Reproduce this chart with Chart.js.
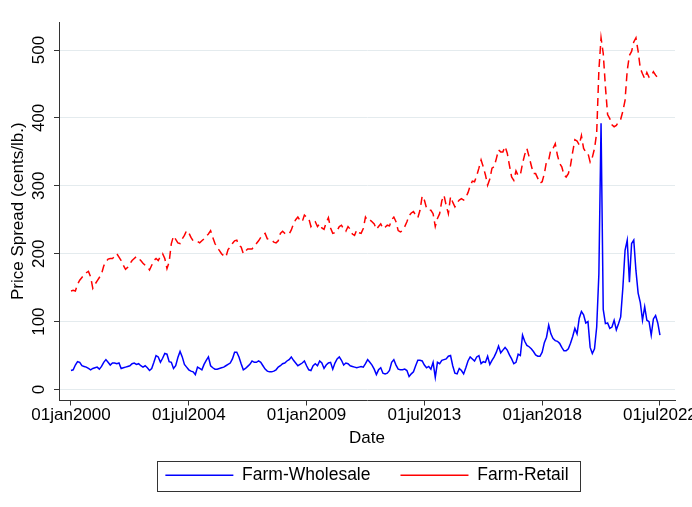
<!DOCTYPE html>
<html>
<head>
<meta charset="utf-8">
<script src="https://cdn.jsdelivr.net/npm/chart.js@4"></script>
<style>
  html, body { margin: 0; padding: 0; background: #fff; }
  canvas { display: block; }
</style>
</head>
<body>
<canvas id="spread" width="692" height="507"></canvas>
<script>
// Monthly price spreads, cents/lb., Jan 2000 .. Jul 2022 (one row per year)
const wholesale = [
  28, 29, 36, 41, 40, 35, 34, 33, 31, 29, 31, 32,       // 2000
  33, 30, 34, 40, 44, 40, 36, 39, 39, 38, 39, 31,       // 2001
  32, 33, 34, 35, 38, 39, 37, 38, 35, 33, 35, 32,       // 2002
  28, 31, 40, 50, 48, 40, 46, 53, 52, 41, 40, 31,       // 2003
  35, 47, 56, 48, 37, 33, 29, 27, 26, 22, 33, 31,       // 2004
  29, 37, 43, 48, 35, 32, 30, 30, 31, 32, 33, 35,       // 2005
  37, 39, 45, 55, 55, 48, 38, 29, 31, 34, 37, 42,       // 2006
  40, 40, 42, 40, 35, 30, 27, 26, 26, 27, 29, 33,       // 2007
  35, 38, 39, 42, 44, 48, 43, 39, 35, 37, 39, 42,       // 2008
  35, 29, 28, 35, 38, 35, 42, 39, 31, 36, 39, 40,       // 2009
  30, 39, 45, 48, 43, 36, 39, 38, 35, 34, 33, 32,       // 2010
  33, 34, 33, 38, 44, 40, 36, 30, 22, 29, 32, 24,       // 2011
  23, 24, 28, 40, 44, 36, 30, 29, 29, 30, 28, 19,       // 2012
  23, 26, 35, 43, 43, 42, 36, 32, 34, 30, 40, 18,       // 2013
  40, 38, 43, 44, 45, 49, 50, 35, 24, 23, 31, 28,       // 2014
  23, 32, 42, 48, 45, 42, 48, 50, 38, 41, 40, 49,       // 2015
  37, 43, 48, 55, 64, 54, 58, 62, 58, 51, 45, 38,       // 2016
  40, 52, 50, 80, 71, 65, 63, 60, 56, 51, 49, 49,       // 2017
  55, 69, 77, 95, 82, 75, 72, 71, 68, 62, 57, 57,       // 2018
  60, 68, 78, 90, 82, 105, 115, 110, 98, 100, 62, 53,   // 2019
  60, 92, 170, 392, 118, 97, 98, 90, 92, 102, 88, 97,   // 2020
  107, 150, 205, 220, 158, 215, 220, 175, 142, 128, 102, 122, // 2021
  102, 100, 80, 104, 109, 98, 80                        // 2022
];

const retail = [
  145, 146, 145, 155, 161, 165, 169, 172, 174, 166, 149, 155, // 2000
  160, 165, 170, 182, 188, 192, 193, 193, 196, 200, 195, 190, // 2001
  183, 177, 180, 185, 190, 193, 196, 193, 190, 186, 183, 181, // 2002
  176, 183, 190, 193, 190, 196, 200, 193, 178, 188, 215, 226, // 2003
  221, 216, 215, 222, 227, 234, 231, 224, 219, 218, 218, 216, // 2004
  219, 222, 226, 229, 234, 224, 215, 209, 205, 200, 197, 195, // 2005
  206, 210, 215, 219, 220, 212, 210, 200, 204, 207, 207, 207, // 2006
  211, 215, 219, 224, 228, 230, 222, 221, 220, 217, 216, 219, // 2007
  230, 233, 230, 229, 229, 235, 244, 250, 254, 249, 247, 257, // 2008
  254, 252, 240, 245, 247, 240, 244, 238, 236, 246, 253, 238, // 2009
  230, 231, 234, 240, 242, 236, 233, 240, 236, 229, 227, 235, // 2010
  231, 230, 237, 254, 249, 250, 247, 244, 236, 240, 244, 237, // 2011
  239, 242, 241, 250, 254, 247, 234, 232, 234, 240, 247, 256, // 2012
  260, 262, 257, 253, 264, 285, 279, 267, 264, 264, 259, 240, // 2013
  252, 259, 278, 286, 271, 259, 284, 276, 269, 275, 279, 281, // 2014
  279, 283, 290, 300, 307, 306, 315, 326, 338, 328, 316, 301, // 2015
  310, 326, 328, 340, 353, 350, 350, 358, 348, 330, 313, 308, // 2016
  322, 315, 316, 333, 346, 355, 343, 330, 318, 318, 311, 304, // 2017
  306, 318, 336, 338, 354, 355, 362, 345, 333, 328, 316, 313, // 2018
  318, 330, 350, 368, 366, 360, 374, 355, 350, 348, 335, 342, // 2019
  355, 378, 470, 518, 495, 446, 405, 399, 390, 387, 389, 394, // 2020
  398, 410, 426, 470, 492, 498, 512, 518, 498, 473, 465, 458, // 2021
  467, 460, 462, 468, 463, 459, 456                           // 2022
];

// x is months since Jan 2000
const tickMonths = [0, 54, 108, 162, 216, 270];
const tickLabels = ['01jan2000', '01jul2004', '01jan2009', '01jul2013', '01jan2018', '01jul2022'];
const yTicks = [0, 100, 200, 300, 400, 500];

const FONT = "'Liberation Sans', Arial, sans-serif";
const toPoints = arr => arr.map((v, i) => ({ x: i, y: v }));

// Stata draws a frame round the legend
const legendFrame = {
    id: 'legendFrame',
    afterDraw(chart) {
        const boxes = chart.legend && chart.legend.legendHitBoxes;
        if (!boxes || !boxes.length) return;
        const first = boxes[0];
        const last = boxes[boxes.length - 1];
        const x1 = Math.round(first.left - 8);
        const x2 = Math.round(last.left + last.width + 11);
        const y1 = Math.round(first.top - 6);
        const y2 = Math.round(first.top + first.height + 7);
        const ctx = chart.ctx;
        ctx.save();
        ctx.strokeStyle = '#333';
        ctx.lineWidth = 1;
        ctx.strokeRect(x1 + 0.5, y1 + 0.5, x2 - x1, y2 - y1);
        ctx.restore();
    }
};

new Chart(document.getElementById('spread'), {
    type: 'line',
    data: {
        datasets: [{
            label: 'Farm-Wholesale',
            data: toPoints(wholesale),
            borderColor: '#0000ff',
            backgroundColor: '#0000ff',
            borderWidth: 1.5,
            pointRadius: 0,
            tension: 0
        }, {
            label: 'Farm-Retail',
            data: toPoints(retail),
            borderColor: '#ff0000',
            backgroundColor: '#ff0000',
            borderWidth: 1.5,
            borderDash: [8, 5],
            pointRadius: 0,
            tension: 0
        }]
    },
    options: {
        responsive: false,
        animation: false,
        devicePixelRatio: 1,
        layout: { padding: { left: 0, right: 17, top: 22, bottom: 13 } },
        scales: {
            x: {
                type: 'linear',
                min: -5.5,
                max: 276.9,
                afterBuildTicks: s => { s.ticks = tickMonths.map(v => ({ value: v })); },
                afterFit: s => { s.height = 36; s.paddingLeft = 0; s.paddingRight = 0; },
                ticks: {
                    callback: (v, i) => tickLabels[i],
                    autoSkip: false,
                    maxRotation: 0,
                    padding: 0,
                    color: '#000',
                    font: { family: FONT, size: 17 }
                },
                grid: { drawOnChartArea: false, tickLength: 5, tickColor: '#333' },
                border: { color: '#333', width: 1 },
                title: {
                    display: true,
                    text: 'Date',
                    color: '#000',
                    font: { family: FONT, size: 17 },
                    padding: { top: 0, bottom: -12 }
                }
            },
            y: {
                min: -16.2,
                max: 541.3,
                afterBuildTicks: s => { s.ticks = yTicks.map(v => ({ value: v })); },
                afterFit: s => { s.width = 59; s.paddingTop = 0; s.paddingBottom = 0; },
                ticks: {
                    callback: v => v,
                    minRotation: 90,
                    maxRotation: 90,
                    crossAlign: 'center',
                    padding: 1,
                    color: '#000',
                    font: { family: FONT, size: 17 }
                },
                grid: { color: '#e4ebee', lineWidth: 1, tickLength: 5, tickColor: '#333' },
                border: { color: '#333', width: 1 },
                title: {
                    display: true,
                    text: 'Price Spread (cents/lb.)',
                    color: '#000',
                    font: { family: FONT, size: 17 },
                    padding: { top: 8, bottom: 0 }
                }
            }
        },
        plugins: {
            legend: {
                position: 'bottom',
                fullSize: false,
                labels: {
                    usePointStyle: true,
                    pointStyle: 'line',
                    pointStyleWidth: 68,
                    padding: 30,
                    color: '#000',
                    font: { family: FONT, size: 17.5 }
                }
            },
            tooltip: { enabled: false }
        }
    },
    plugins: [legendFrame]
});
</script>
</body>
</html>
